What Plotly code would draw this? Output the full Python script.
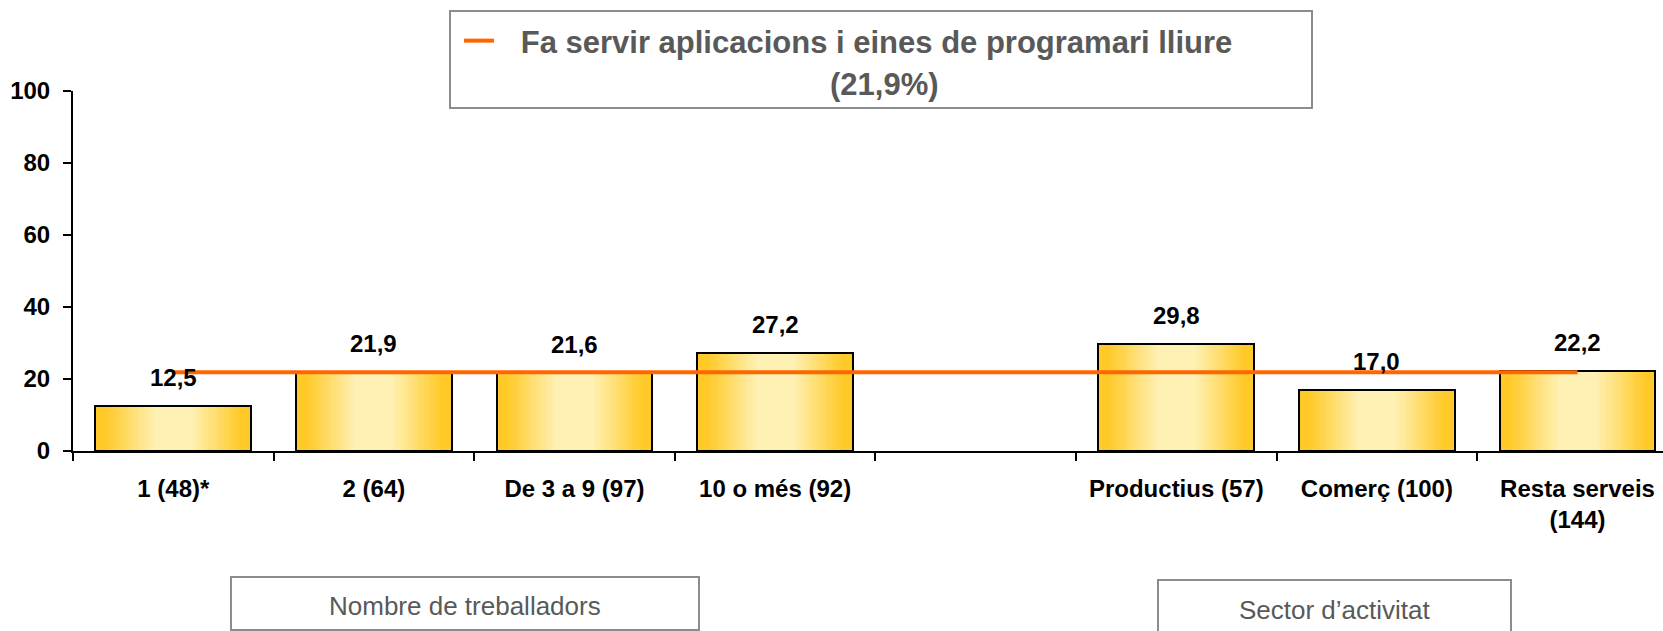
import plotly.graph_objects as go

# ---------------- data ----------------
categories = ["1 (48)*", "2 (64)", "De 3 a 9 (97)", "10 o més (92)", " ",
              "Productius (57)", "Comerç (100)", "Resta serveis<br>(144)"]
values = [12.5, 21.9, 21.6, 27.2, None, 29.8, 17.0, 22.2]
value_labels = ["12,5", "21,9", "21,6", "27,2", "", "29,8", "17,0", "22,2"]
average_line = [21.9, 21.9, 21.9, 21.9, 21.9, 21.9, 21.9, 21.9]
legend_name = "Fa servir aplicacions i eines de programari lliure"
legend_pct = "(21,9%)"
group_labels = ["Nombre de treballadors", "Sector d’activitat"]
y_ticks = [0, 20, 40, 60, 80, 100]

# ---------------- style ----------------
FONT = "Liberation Sans, Arial, sans-serif"
GOLD = (255, 202, 40)
LIGHT = (255, 240, 180)
BAR_W = 0.776
N_STEPS = 16
PX_L, PX_R, PX_T, PX_B = 73, 1663, 91, 451  # plot area in pixels
W, H = 1663, 631


def px_x(px):
    return (px - PX_L) / (PX_R - PX_L)


def px_y(py):
    return (PX_B - py) / (PX_B - PX_T)


def lerp(c1, c2, t):
    return "rgb(%d,%d,%d)" % tuple(round(a + (b - a) * t) for a, b in zip(c1, c2))


fig = go.Figure()

# gradient bars: overlays from wide/gold to narrow/light
fig.add_trace(go.Bar(x=categories, y=values, width=BAR_W,
                     marker=dict(color=lerp(GOLD, LIGHT, 0), line=dict(width=0)),
                     showlegend=False, hoverinfo="skip"))
for i in range(N_STEPS):
    frac = 0.85 - (0.85 - 0.25) * i / (N_STEPS - 1)
    t = (i + 1) / N_STEPS
    fig.add_trace(go.Bar(x=categories, y=values, width=BAR_W * frac,
                         marker=dict(color=lerp(GOLD, LIGHT, t), line=dict(width=0)),
                         showlegend=False, hoverinfo="skip"))
# outline
fig.add_trace(go.Bar(x=categories, y=values, width=BAR_W,
                     marker=dict(color="rgba(0,0,0,0)", line=dict(color="black", width=2)),
                     showlegend=False, hoverinfo="skip"))

# average line
fig.add_trace(go.Scatter(x=categories, y=average_line, mode="lines",
                         line=dict(color="#FF6600", width=4),
                         name="\u2002\u2009" + legend_name, showlegend=True))

# value labels
annotations = []
for c, v, lab in zip(categories, values, value_labels):
    if v is None:
        continue
    annotations.append(dict(x=c, y=v, xref="x", yref="y", text=lab, showarrow=False,
                            yanchor="bottom", yshift=13,
                            font=dict(family=FONT, size=24, color="black", weight="bold")))

annotations.append(dict(x=px_x(884), y=px_y(84), xref="paper", yref="paper",
                        text=legend_pct, showarrow=False, xanchor="center", yanchor="middle",
                        font=dict(family=FONT, size=31, color="#595959", weight="bold")))
annotations.append(dict(x=px_x(465), y=px_y(606), xref="paper", yref="paper",
                        text=group_labels[0], showarrow=False, xanchor="center", yanchor="middle",
                        font=dict(family=FONT, size=26, color="#595959")))
annotations.append(dict(x=px_x(1334.5), y=px_y(609.5), xref="paper", yref="paper",
                        text=group_labels[1], showarrow=False, xanchor="center", yanchor="middle",
                        font=dict(family=FONT, size=26, color="#595959")))

shapes = [
    dict(type="rect", xref="paper", yref="paper", x0=px_x(450), x1=px_x(1312),
         y0=px_y(108), y1=px_y(11), line=dict(color="#8C8C8C", width=2), layer="above"),
    dict(type="rect", xref="paper", yref="paper", x0=px_x(231), x1=px_x(699),
         y0=px_y(630), y1=px_y(577), line=dict(color="#8C8C8C", width=2)),
    dict(type="rect", xref="paper", yref="paper", x0=px_x(1158), x1=px_x(1511),
         y0=px_y(650), y1=px_y(580), line=dict(color="#8C8C8C", width=2)),
]

fig.update_layout(
    width=W, height=H,
    barmode="overlay",
    bargap=0,
    plot_bgcolor="white", paper_bgcolor="white",
    margin=dict(l=PX_L, r=W - PX_R, t=PX_T, b=H - PX_B, autoexpand=False),
    font=dict(family=FONT, color="black"),
    showlegend=True,
    legend=dict(x=px_x(459), y=px_y(14), xanchor="left", yanchor="top",
                bgcolor="rgba(0,0,0,0)", borderwidth=0,
                font=dict(family=FONT, size=31, color="#595959", weight="bold")),
    annotations=annotations,
    shapes=shapes,
)

fig.update_xaxes(type="category", categoryorder="array", categoryarray=categories,
                 range=[-0.5, -0.5 + (PX_R - PX_L) / 200.6],
                 showline=True, linecolor="black", linewidth=2,
                 ticks="outside", tickson="boundaries", ticklen=8, tickwidth=2, tickcolor="black",
                 ticklabelstandoff=15,
                 showgrid=False, zeroline=False,
                 tickfont=dict(family=FONT, size=24, color="black", weight="bold"))
fig.update_yaxes(range=[0, 100], tickvals=y_ticks,
                 showline=True, linecolor="black", linewidth=2,
                 ticks="outside", ticklen=8, tickwidth=2, tickcolor="black",
                 ticklabelstandoff=8,
                 showgrid=False, zeroline=False,
                 tickfont=dict(family=FONT, size=24, color="black", weight="bold"))

fig.write_html("out.html",
               config={"displayModeBar": False},
               post_script="document.body.style.margin='0';document.body.style.padding='0';")
